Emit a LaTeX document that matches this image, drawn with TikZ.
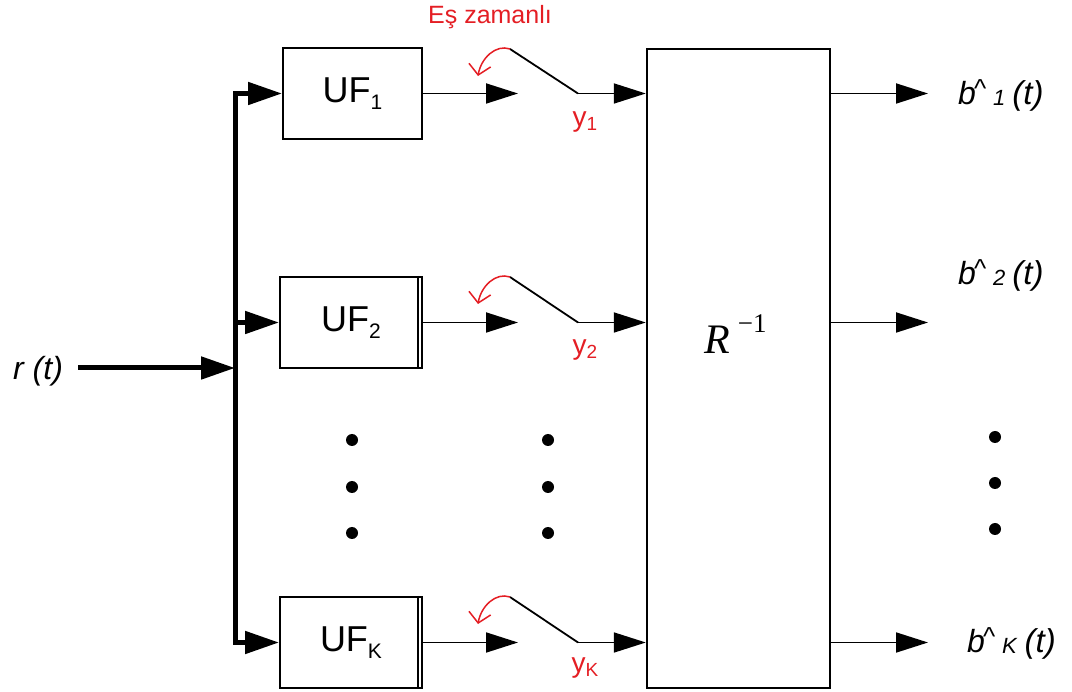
\documentclass[tikz,border=0pt]{standalone}
\usepackage{fontspec}
\setmainfont{Liberation Sans}
\newfontfamily\serifR{Liberation Serif}
\usetikzlibrary{arrows.meta}
\definecolor{sigred}{RGB}{228,30,36}
\newcommand{\fs}[1]{\fontsize{#1}{#1}\selectfont}
\newcommand{\ufl}[1]{\fs{36}UF\raisebox{-7pt}{\fs{21}#1}}
\newcommand{\yl}[1]{\fs{28}y\raisebox{-4pt}{\fs{19}#1}}
\newcommand{\bl}[1]{\fs{32}\textit{b}\kern-2pt\raisebox{7pt}{\fs{26}\textasciicircum}\kern7pt\raisebox{-1pt}{\fs{22}\textit{#1}}\kern7pt\fs{33}\textit{(t)}}
\begin{document}
\begin{tikzpicture}[x=1pt,y=-1pt,
  blk/.style={draw,line width=2pt,inner sep=0pt,minimum width=142pt,minimum height=91pt},
  arr/.style={line width=1.8pt,-{Triangle[length=32pt,width=20pt]}},
  busarr/.style={line width=5pt,line join=miter,-{Triangle[length=34pt,width=22pt]}},
  sw/.style={line width=1.8pt},
  redarr/.style={draw=sigred,line width=1.5pt,-{Straight Barb[length=10pt,width=22pt,line width=1.5pt]}},
  dotc/.style={fill=black,draw=none},
  lab/.style={inner sep=0pt}
]
\useasboundingbox (0,0) rectangle (1072,692);

% blocks
\node[blk,minimum width=139pt] (uf1) at (352.5,93.5) {\ufl{1}};
\node[blk] (uf2) at (351,322.5) {\ufl{2}};
\node[blk] (ufk) at (351,642.5) {\ufl{K}};
\draw[line width=1.6pt] ([xshift=-5pt]uf2.north east) -- ([xshift=-5pt]uf2.south east);
\draw[line width=1.6pt] ([xshift=-5pt]ufk.north east) -- ([xshift=-5pt]ufk.south east);
\node[draw,line width=2.4pt,inner sep=0pt,minimum width=183pt,minimum height=639pt] (R) at (738.5,368.5) {};
\node[lab,anchor=base west] (rinv) at (704,354) {\serifR\fs{42}\textit{R}\kern8pt\raisebox{21pt}{\fs{27}−1}};

% input and bus
\node[lab,anchor=base west] (rt) at (13,380) {\fs{32}\textit{r (t)}};
\coordinate (bt) at (235,93.5);
\coordinate (bm) at (235,322.5);
\coordinate (bin) at (235,368);
\coordinate (bb) at (235,642.5);
\draw[busarr] (bin) -- (bt) -- (uf1.west);
\draw[busarr] (bin) -- (bb) -- (ufk.west);
\draw[busarr] (bm) -- (uf2.west);
\draw[busarr] (78,368) -- (bin);

% switches row 1
\coordinate (o1) at (518,93.5);
\coordinate (s1a) at (510,49);
\coordinate (s1b) at (578,93.5);
\draw[arr] (uf1.east) -- (o1);
\draw[sw] (s1a) -- (s1b);
\draw[arr] (s1b) -- (R.west |- s1b);
\draw[redarr] (s1a) .. controls (496,44) and (481,58) .. (478,76);
\node[lab,text=sigred] (y1) at (585,122) {\yl{1}};

% row 2
\coordinate (o2) at (518,322.5);
\coordinate (s2a) at (510,277);
\coordinate (s2b) at (578,322.5);
\draw[arr] (uf2.east) -- (o2);
\draw[sw] (s2a) -- (s2b);
\draw[arr] (s2b) -- (R.west |- s2b);
\draw[redarr] (s2a) .. controls (496,272) and (481,286) .. (478,304);
\node[lab,text=sigred] (y2) at (585,350) {\yl{2}};

% row K
\coordinate (ok) at (518,642.5);
\coordinate (ska) at (510,597);
\coordinate (skb) at (578,642.5);
\draw[arr] (ufk.east) -- (ok);
\draw[sw] (ska) -- (skb);
\draw[arr] (skb) -- (R.west |- skb);
\draw[redarr] (ska) .. controls (496,592) and (481,606) .. (478,624);
\node[lab,text=sigred] (yk) at (585,668) {\yl{K}};

\node[lab,text=sigred] (es) at (490,17) {\fs{25}Eş zamanlı};

% outputs
\coordinate (e1) at (928,93.5);
\coordinate (e2) at (928,322.5);
\coordinate (ek) at (928,642.5);
\draw[arr] (R.east |- e1) -- (e1);
\draw[arr] (R.east |- e2) -- (e2);
\draw[arr] (R.east |- ek) -- (ek);
\node[lab,anchor=base west] (b1) at (958,105) {\bl{1}};
\node[lab,anchor=base west] (b2) at (958,285) {\bl{2}};
\node[lab,anchor=base west] (bk) at (967,652) {\bl{K}};

% dots
\foreach \yy in {440,487,533}{
  \fill[dotc] (352,\yy) circle (6pt);
  \fill[dotc] (548,\yy) circle (6pt);
}
\foreach \yy in {437,483,529}{
  \fill[dotc] (995,\yy) circle (6pt);
}
\end{tikzpicture}
\end{document}
